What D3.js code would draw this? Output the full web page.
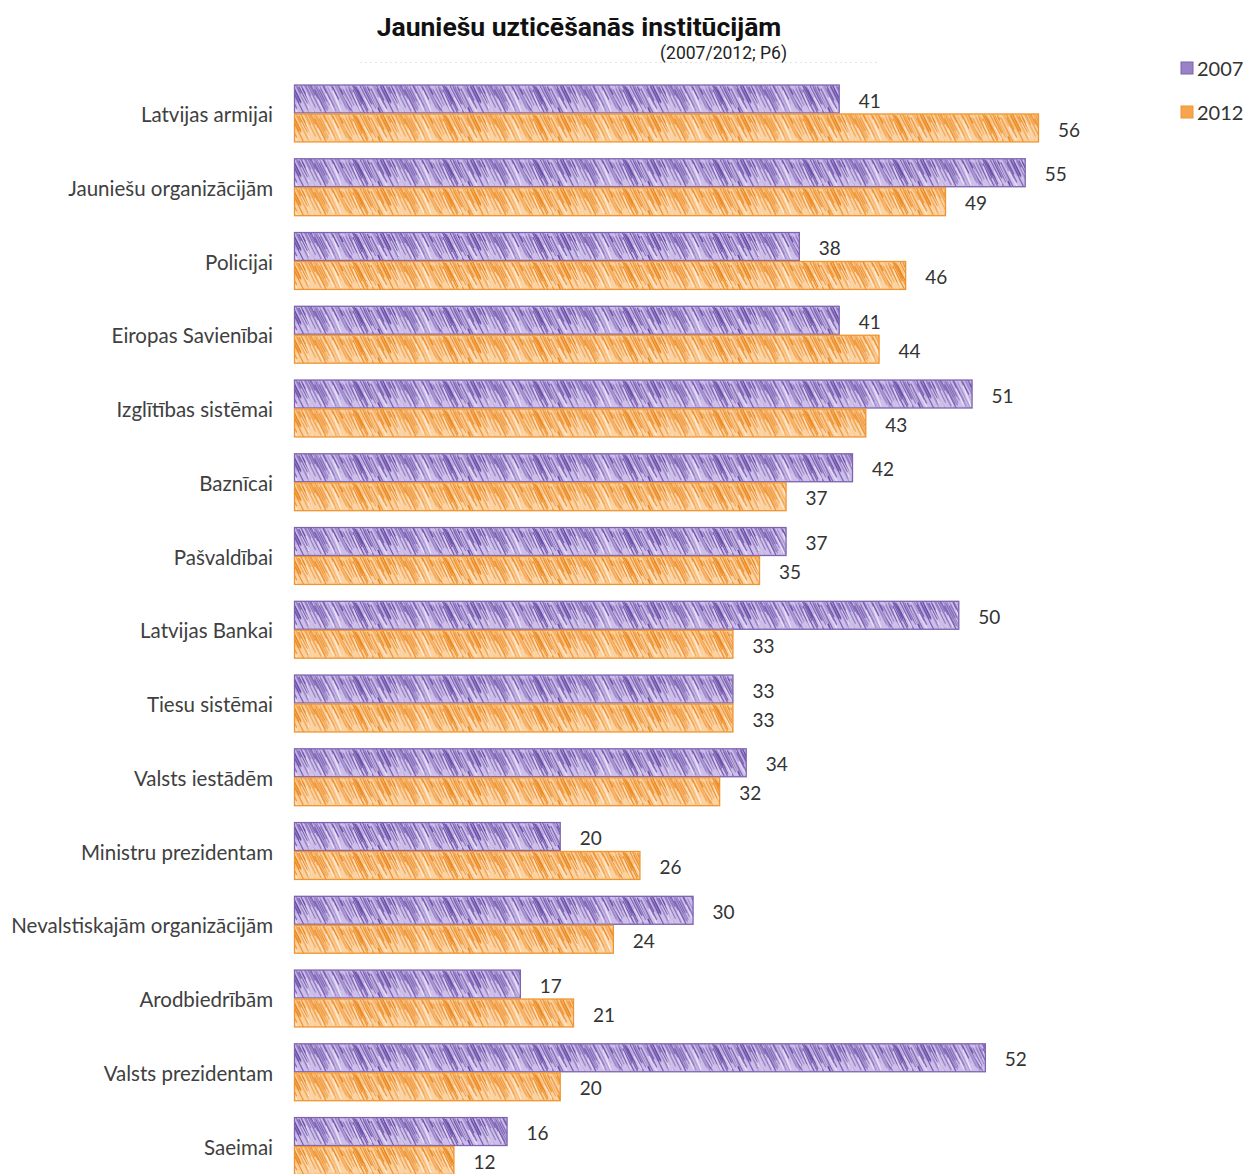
<!DOCTYPE html>
<html><head><meta charset="utf-8">
<script src="https://cdn.jsdelivr.net/npm/d3@7"></script>
<style>body{margin:0;background:#fff}svg{display:block}</style>
</head><body>
<script>
const categories = ["Latvijas armijai","Jauniešu organizācijām","Policijai","Eiropas Savienībai","Izglītības sistēmai","Baznīcai","Pašvaldībai","Latvijas Bankai","Tiesu sistēmai","Valsts iestādēm","Ministru prezidentam","Nevalstiskajām organizācijām","Arodbiedrībām","Valsts prezidentam","Saeimai"];
const values2007 = [41,55,38,41,51,42,37,50,33,34,20,30,17,52,16];
const values2012 = [56,49,46,44,43,37,35,33,33,32,26,24,21,20,12];
const seriesNames = ["2007","2012"];
const title = "Jauniešu uzticēšanās institūcijām";
const subtitle = "(2007/2012; P6)";

const W = 1244, H = 1174;
const svg = d3.select("body").append("svg").attr("width", W).attr("height", H);
const defs = svg.append("defs");

const colors = {
  "2007": {fill:"#9a82c8", dark:"#6446a2", light:"#cdbfea", stroke:"#7d63b0"},
  "2012": {fill:"#f6a54e", dark:"#ea8416", light:"#fbd2a2", stroke:"#f0952f"}
};
// pencil-like scribble patterns (style only)
const PW = 90, PH = 29;
seriesNames.forEach(s => {
  const c = colors[s];
  const p = defs.append("pattern").attr("id","pat"+s).attr("patternUnits","userSpaceOnUse")
    .attr("width",PW).attr("height",PH);
  p.append("rect").attr("width",PW).attr("height",PH).attr("fill",c.light);
  let k = 7;
  for (let i = 0; i < 75; i++) {
    k = (k * 37 + 11) % 97;
    const x0 = (i * 1.2) % PW;
    const y0 = (k % 9) - 3;
    const len = 12 + (k % 20);
    const col = (k % 3 === 0) ? c.fill : c.dark;
    const op = 0.4 + (k % 6) * 0.1;
    [-PW, 0, PW].forEach(off => {
      p.append("line").attr("x1", x0 + off).attr("y1", y0)
        .attr("x2", x0 + off + len * 0.5).attr("y2", y0 + len)
        .attr("stroke", col).attr("stroke-width", 1.1).attr("opacity", op);
    });
  }
  for (let i = 0; i < 10; i++) {
    k = (k * 37 + 11) % 97;
    const x0 = (i * 9 + k % 5) % PW;
    [-PW, 0, PW].forEach(off => {
      p.append("line").attr("x1", x0 + off).attr("y1", 6 + k % 8)
        .attr("x2", x0 + off + 8).attr("y2", 23 + k % 6)
        .attr("stroke", "#fff").attr("stroke-width", 1.3).attr("opacity", 0.6);
    });
  }
});

const x = d3.scaleLinear().domain([0,56]).range([295,1039]);
const y = d3.scaleBand().domain(categories).range([76.6,1182.9]).paddingInner(0.215).paddingOuter(0.1075);
const sub = d3.scaleBand().domain(seriesNames).range([0,y.bandwidth()]);

const data = categories.map((c,i)=>({cat:c, vals:[{s:"2007",v:values2007[i]},{s:"2012",v:values2012[i]}]}));

const g = svg.append("g");
const groups = g.selectAll("g.cat").data(data).join("g").attr("transform",d=>`translate(0,${y(d.cat)})`);
groups.selectAll("rect").data(d=>d.vals).join("rect")
  .attr("x",x(0)-0.5).attr("y",d=>sub(d.s)+0.5)
  .attr("width",d=>x(d.v)-x(0)).attr("height",sub.bandwidth()-1)
  .attr("fill",d=>`url(#pat${d.s})`).attr("stroke",d=>colors[d.s].stroke).attr("stroke-width",1.3);
groups.selectAll("text.val").data(d=>d.vals).join("text").attr("class","val")
  .attr("x",d=>x(d.v)+19).attr("y",d=>sub(d.s)+sub.bandwidth()/2+2)
  .attr("dy","0.35em").attr("font-family","Lato, sans-serif").attr("font-size",19).attr("fill","#333")
  .text(d=>d.v);

// category axis labels
const yAxis = d3.axisLeft(y).tickSize(0).tickPadding(0);
const ax = svg.append("g").attr("transform","translate(273,0)").call(yAxis);
ax.select(".domain").remove();
ax.selectAll("text").attr("font-family","Lato, sans-serif").attr("font-size",20.5).attr("fill","#404040").attr("dy","0.42em");

// title
svg.append("text").attr("x",579).attr("y",36).attr("text-anchor","middle")
  .attr("font-family","Roboto, sans-serif").attr("font-weight","bold").attr("font-size",26.5).attr("fill","#111").text(title);
svg.append("text").attr("x",787).attr("y",59).attr("text-anchor","end")
  .attr("font-family","Roboto, sans-serif").attr("font-size",17.5).attr("fill","#222").text(subtitle);
svg.append("line").attr("x1",360).attr("x2",880).attr("y1",62.5).attr("y2",62.5)
  .attr("stroke","#e4e4e4").attr("stroke-dasharray","2,3");

// legend
const leg = svg.append("g").selectAll("g").data(seriesNames).join("g")
  .attr("transform",(d,i)=>`translate(1181,${62+i*44})`);
leg.append("rect").attr("width",12).attr("height",12).attr("fill",d=>colors[d].fill).attr("stroke",d=>colors[d].stroke).attr("stroke-width",1);
leg.append("text").attr("x",16).attr("y",7).attr("dy","0.35em").attr("font-family","Lato, sans-serif").attr("font-size",20).attr("fill","#333").text(d=>d);
</script>
</body></html>
